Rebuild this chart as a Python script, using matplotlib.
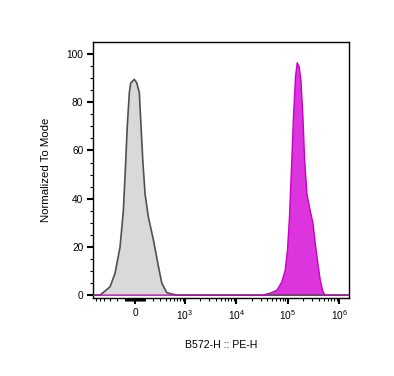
import numpy as np
import matplotlib
matplotlib.use("Agg")
import matplotlib.pyplot as plt

plt.rcParams['font.family'] = ['Liberation Sans', 'DejaVu Sans']
plt.rcParams['mathtext.fontset'] = 'custom'
plt.rcParams['mathtext.rm'] = 'Liberation Sans'
plt.rcParams['mathtext.it'] = 'Liberation Sans'

# ---- data ----
gray_x = [-696, -498, -298, -222, -157, -119, -101, -77, -56, -42, -7, 17, 42, 56, 77,
          101, 137, 199, 271, 327, 424, 686, 1.546e6]
gray_y = [0, 0, 3.4, 9, 20, 35, 49, 70, 84, 88, 89.5, 88, 84, 72.6, 56,
          42, 32.5, 23, 12, 5, 1, 0, 0]

pe_x = [-696, 31500, 45600, 61500, 76900, 89200, 98800, 108000, 118200, 129200, 141300,
        152500, 166700, 179900, 196700, 211300, 235200, 272600, 307600, 341000, 384800,
        426400, 481300, 533500, 1.546e6]
pe_y = [0, 0, 0.8, 2, 5.5, 10.4, 18.7, 32.5, 53, 74, 90.6,
        96.4, 94.7, 89, 74, 57, 42, 35, 30, 21.5, 13,
        6.2, 1.4, 0, 0]

major_ticks = [0, 1e3, 1e4, 1e5, 1e6]
major_labels = ['0', '$10^{3}$', '$10^{4}$', '$10^{5}$', '$10^{6}$']
y_ticks = [0, 20, 40, 60, 80, 100]

xlabel = 'B572-H :: PE-H'
ylabel = 'Normalized To Mode'

# ---- biexponential-like scale ----
C = 218.0
def fwd(x):
    return np.arcsinh(np.asarray(x, dtype=float) / C) / np.log(10)
def inv(y):
    return C * np.sinh(np.asarray(y, dtype=float) * np.log(10))

fig = plt.figure(figsize=(3.94, 3.76), dpi=100)
ax = fig.add_axes([0.236, 0.2074, 0.650, 0.681])
ax.set_xscale('function', functions=(fwd, inv))

ax.fill_between(gray_x, gray_y, 0, facecolor='#d9d9d9', edgecolor='none', zorder=2)
ax.plot(gray_x, gray_y, color='#505050', lw=1.2, zorder=3)
ax.fill_between(pe_x, pe_y, 0, facecolor='#dd35dd', edgecolor='none', zorder=2)
ax.plot(pe_x, pe_y, color='#c800c8', lw=1.0, zorder=3)

ax.set_xlim(-696, 1.546e6)
ax.set_ylim(-1.2, 105)

ax.set_xticks(major_ticks)
ax.set_xticklabels(major_labels)
minors = []
for k in (10, 100):
    for m in range(1, 10):
        minors += [m * k, -m * k]
for k in (1e3, 1e4, 1e5):
    for m in range(2, 10):
        minors.append(m * k)
minors = [v for v in minors if -696 < v < 1.546e6]
ax.set_xticks(minors, minor=True)

ax.set_yticks(y_ticks)
ax.set_yticks(np.arange(0, 105, 5), minor=True)

ax.tick_params(axis='both', which='major', direction='out', length=4, width=1.5,
               labelsize=7.3, pad=3, color='black')
ax.tick_params(axis='both', which='minor', direction='out', length=2.5, width=0.8,
               color='black')

for s in ax.spines.values():
    s.set_linewidth(1.0)
    s.set_color('black')

ax.set_xlabel(xlabel, fontsize=7.6, labelpad=13)
ax.set_ylabel(ylabel, fontsize=8.2, labelpad=11)

fig.savefig('out.png', dpi=100)
